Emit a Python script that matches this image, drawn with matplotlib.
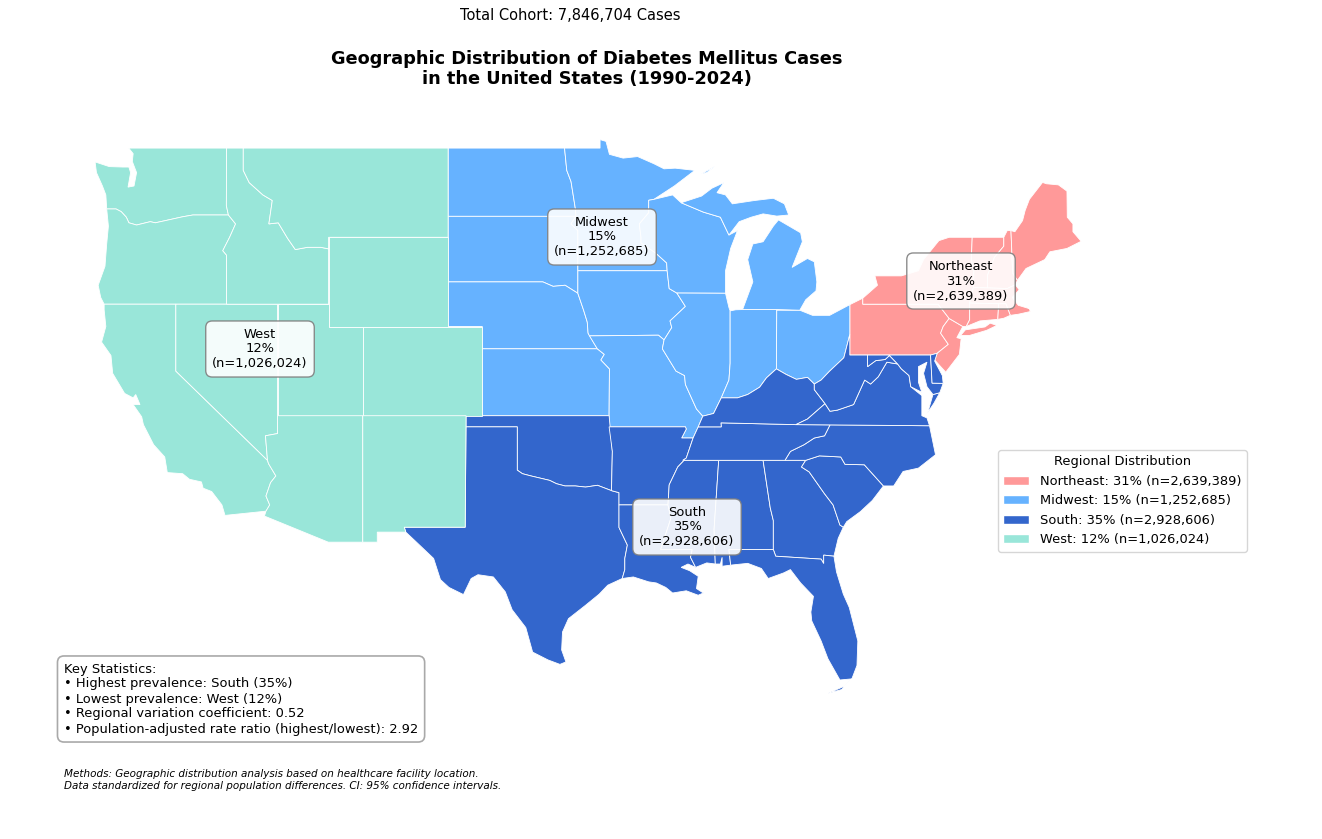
import matplotlib
matplotlib.use('Agg')
import matplotlib.pyplot as plt
from matplotlib.patches import Polygon, Patch

# state outlines, lon/lat
WA = [(-117.03,49.0),(-122.76,49.0),(-122.5,48.75),(-122.55,48.4),(-122.3,47.9),(-122.45,47.3),(-122.8,47.25),(-122.65,47.9),(-122.75,48.15),(-123.1,48.15),(-123.9,48.17),(-124.73,48.38),(-124.65,47.9),(-124.3,47.3),(-124.1,46.9),(-124.05,46.27),(-123.5,46.27),(-123.2,46.15),(-122.9,45.9),(-122.75,45.65),(-122.3,45.55),(-121.5,45.7),(-121.2,45.65),(-120.6,45.75),(-119.6,45.92),(-119.0,46.0),(-116.92,46.0),(-117.04,46.42)]
OR = [(-124.05,46.27),(-123.5,46.27),(-123.2,46.15),(-122.9,45.9),(-122.75,45.65),(-122.3,45.55),(-121.5,45.7),(-121.2,45.65),(-120.6,45.75),(-119.6,45.92),(-119.0,46.0),(-116.92,46.0),(-116.5,45.6),(-116.85,45.0),(-117.25,44.4),(-117.03,44.2),(-117.03,42.0),(-124.2,42.0),(-124.4,42.3),(-124.55,42.85),(-124.15,43.7),(-124.05,44.7),(-123.95,45.5)]
CA = [(-124.2,42.0),(-120.0,42.0),(-120.0,39.0),(-114.63,35.0),(-114.57,34.85),(-114.14,34.3),(-114.45,34.0),(-114.72,33.4),(-114.5,33.0),(-114.72,32.72),(-117.12,32.53),(-117.3,33.0),(-117.9,33.6),(-118.4,33.75),(-118.5,34.03),(-119.2,34.15),(-119.6,34.4),(-120.5,34.45),(-120.65,35.15),(-121.3,35.7),(-121.9,36.6),(-122.0,36.95),(-122.5,37.5),(-122.1,37.5),(-122.35,37.95),(-122.5,37.8),(-123.0,38.0),(-123.7,38.9),(-123.8,39.7),(-124.35,40.3),(-124.1,41.0),(-124.2,41.75)]
NV = [(-120.0,42.0),(-114.04,42.0),(-114.04,36.2),(-114.75,36.1),(-114.63,35.0),(-120.0,39.0)]
ID = [(-117.03,49.0),(-116.05,49.0),(-116.05,48.0),(-115.7,47.45),(-114.9,46.9),(-114.35,46.65),(-114.55,45.6),(-114.0,45.65),(-113.45,44.95),(-113.0,44.45),(-112.3,44.55),(-111.5,44.55),(-111.05,44.48),(-111.05,42.0),(-117.03,42.0),(-117.03,44.2),(-117.25,44.4),(-116.85,45.0),(-116.5,45.6),(-116.92,46.0),(-117.04,46.42)]
MT = [(-116.05,49.0),(-104.05,49.0),(-104.05,45.0),(-111.05,45.0),(-111.05,44.48),(-111.5,44.55),(-112.3,44.55),(-113.0,44.45),(-113.45,44.95),(-114.0,45.65),(-114.55,45.6),(-114.35,46.65),(-114.9,46.9),(-115.7,47.45),(-116.05,48.0)]
WY = [(-111.05,45.0),(-104.05,45.0),(-104.05,41.0),(-111.05,41.0)]
UT = [(-114.04,42.0),(-111.05,42.0),(-111.05,41.0),(-109.05,41.0),(-109.05,37.0),(-114.04,37.0)]
CO = [(-109.05,41.0),(-102.05,41.0),(-102.05,37.0),(-109.05,37.0)]
AZ = [(-114.04,37.0),(-109.05,37.0),(-109.05,31.33),(-111.07,31.33),(-114.81,32.5),(-114.72,32.72),(-114.5,33.0),(-114.72,33.4),(-114.45,34.0),(-114.14,34.3),(-114.57,34.85),(-114.63,35.0),(-114.75,36.1),(-114.04,36.2)]
NM = [(-109.05,37.0),(-103.0,37.0),(-103.05,32.0),(-106.62,32.0),(-106.53,31.78),(-108.2,31.78),(-108.2,31.33),(-109.05,31.33)]

ND = [(-104.05,49.0),(-97.23,49.0),(-97.1,48.0),(-96.85,47.5),(-96.6,46.3),(-96.56,45.94),(-104.05,45.94)]
SD = [(-104.05,45.94),(-96.56,45.94),(-96.85,45.6),(-96.45,45.3),(-96.45,42.49),(-97.2,42.85),(-97.9,42.8),(-98.5,43.0),(-104.05,43.0)]
NE = [(-104.05,43.0),(-98.5,43.0),(-97.9,42.8),(-97.2,42.85),(-96.45,42.49),(-96.1,41.7),(-95.9,41.2),(-95.85,40.7),(-95.31,40.0),(-102.05,40.0),(-102.05,41.0),(-104.05,41.0)]
KS = [(-102.05,40.0),(-95.31,40.0),(-94.9,39.75),(-95.1,39.5),(-94.6,39.1),(-94.62,37.0),(-102.05,37.0)]
MN = [(-97.23,49.0),(-95.15,49.0),(-95.15,49.38),(-94.8,49.3),(-94.6,48.72),(-93.8,48.55),(-92.95,48.62),(-92.0,48.3),(-91.4,48.07),(-90.75,48.1),(-89.6,48.0),(-90.8,47.3),(-92.0,46.7),(-92.3,46.66),(-92.3,46.1),(-92.85,45.6),(-92.75,45.0),(-92.75,44.75),(-91.9,44.3),(-91.25,43.85),(-91.22,43.5),(-96.45,43.5),(-96.45,45.3),(-96.85,45.6),(-96.56,45.94),(-96.6,46.3),(-96.85,47.5),(-97.1,48.0)]
IA = [(-96.45,43.5),(-91.22,43.5),(-91.1,42.7),(-90.65,42.5),(-90.15,41.9),(-91.05,41.25),(-90.95,40.95),(-91.4,40.4),(-91.73,40.61),(-95.77,40.58),(-95.85,40.7),(-95.9,41.2),(-96.1,41.7),(-96.45,42.49)]
MO = [(-95.77,40.58),(-91.73,40.61),(-91.4,40.4),(-91.5,40.0),(-90.7,39.0),(-90.2,38.8),(-90.15,38.4),(-89.5,37.3),(-89.13,36.98),(-89.4,36.5),(-89.7,36.0),(-90.37,36.0),(-90.1,36.4),(-90.15,36.5),(-94.62,36.5),(-94.62,37.0),(-94.6,39.1),(-95.1,39.5),(-94.9,39.75),(-95.31,40.0)]
WI = [(-92.3,46.66),(-92.0,46.7),(-90.9,46.9),(-90.4,46.55),(-89.1,46.13),(-88.1,45.9),(-87.6,45.1),(-87.1,45.3),(-87.5,44.5),(-87.8,43.5),(-87.8,42.49),(-90.65,42.5),(-91.1,42.7),(-91.22,43.5),(-91.25,43.85),(-91.9,44.3),(-92.75,44.75),(-92.75,45.0),(-92.85,45.6),(-92.3,46.1)]
IL = [(-90.65,42.5),(-87.8,42.49),(-87.6,41.85),(-87.53,41.7),(-87.53,39.35),(-87.6,38.6),(-88.05,37.8),(-88.5,37.1),(-89.13,36.98),(-89.5,37.3),(-90.15,38.4),(-90.2,38.8),(-90.7,39.0),(-91.5,40.0),(-91.4,40.4),(-90.95,40.95),(-91.05,41.25),(-90.15,41.9)]
IN = [(-87.53,41.7),(-87.2,41.75),(-86.8,41.76),(-84.8,41.76),(-84.82,39.1),(-85.4,38.7),(-85.8,38.28),(-86.5,37.95),(-87.1,37.8),(-88.05,37.8),(-87.6,38.6),(-87.53,39.35)]
OH = [(-84.82,39.1),(-84.8,41.73),(-83.45,41.73),(-82.7,41.5),(-81.7,41.5),(-80.52,41.98),(-80.52,40.64),(-80.87,39.6),(-81.7,39.0),(-82.2,38.6),(-82.6,38.42),(-83.0,38.72),(-83.65,38.63),(-84.25,38.85)]
MI_UPPER = [(-90.4,46.55),(-89.1,46.13),(-88.1,45.9),(-87.6,45.1),(-87.0,45.7),(-86.3,45.9),(-85.6,46.05),(-84.8,45.95),(-84.1,46.0),(-84.35,46.5),(-85.0,46.75),(-86.1,46.65),(-87.4,46.5),(-87.8,46.9),(-88.3,47.0),(-87.9,47.45),(-88.6,47.2),(-89.2,46.85)]
MI_LOWER = [(-86.8,41.76),(-84.8,41.76),(-83.45,41.73),(-83.1,42.2),(-82.5,42.6),(-82.45,43.0),(-82.6,43.9),(-83.0,44.05),(-83.9,43.65),(-83.3,44.8),(-83.4,45.2),(-84.7,45.78),(-85.0,45.5),(-85.6,44.8),(-86.2,44.7),(-86.5,44.0),(-86.2,43.0)]
ISLE_ROYALE = [(-89.2,47.85),(-88.45,48.17),(-88.9,47.9)]

OK = [(-103.0,37.0),(-94.62,37.0),(-94.43,35.4),(-94.48,33.64),(-95.3,33.88),(-96.0,33.8),(-96.6,33.85),(-97.2,33.85),(-97.7,33.95),(-98.1,34.1),(-99.2,34.3),(-99.7,34.4),(-100.0,34.56),(-100.0,36.5),(-103.0,36.5)]
TX = [(-106.62,32.0),(-103.05,32.0),(-103.0,36.5),(-100.0,36.5),(-100.0,34.56),(-99.7,34.4),(-99.2,34.3),(-98.1,34.1),(-97.7,33.95),(-97.2,33.85),(-96.6,33.85),(-96.0,33.8),(-95.3,33.88),(-94.48,33.64),(-94.04,33.55),(-94.04,31.99),(-93.55,31.2),(-93.7,30.6),(-93.7,30.1),(-93.85,29.7),(-94.7,29.4),(-95.2,29.0),(-96.0,28.5),(-97.0,27.9),(-97.35,27.3),(-97.4,26.5),(-97.15,25.96),(-97.5,25.85),(-98.2,26.05),(-99.1,26.4),(-99.5,27.5),(-100.3,28.3),(-100.7,29.1),(-101.4,29.77),(-102.3,29.87),(-102.7,29.7),(-103.15,28.98),(-104.0,29.3),(-104.5,29.65),(-104.9,30.6),(-106.0,31.4),(-106.53,31.78)]
AR = [(-94.62,36.5),(-90.15,36.5),(-90.1,36.4),(-90.37,36.0),(-89.7,36.0),(-90.1,35.1),(-90.6,34.7),(-91.1,33.9),(-91.17,33.0),(-94.04,33.0),(-94.04,33.55),(-94.48,33.64),(-94.43,35.4)]
LA = [(-94.04,33.0),(-91.17,33.0),(-91.0,32.4),(-91.6,31.0),(-89.75,31.0),(-89.85,30.65),(-89.55,30.2),(-90.0,30.35),(-90.4,30.2),(-89.9,30.05),(-89.4,29.8),(-89.5,29.25),(-89.1,29.05),(-89.4,28.95),(-90.1,29.15),(-90.9,29.05),(-91.3,29.3),(-91.85,29.5),(-92.3,29.55),(-93.2,29.77),(-93.85,29.7),(-93.7,30.1),(-93.7,30.6),(-93.55,31.2),(-94.04,31.99)]
MS = [(-90.3,35.0),(-88.2,35.0),(-88.47,31.9),(-88.4,30.35),(-88.9,30.4),(-89.55,30.2),(-89.85,30.65),(-89.75,31.0),(-91.6,31.0),(-91.0,32.4),(-91.17,33.0),(-91.1,33.9),(-90.6,34.7),(-90.1,35.1)]
AL = [(-88.2,35.0),(-85.6,35.0),(-85.18,32.87),(-85.0,32.3),(-85.0,31.0),(-87.6,31.0),(-87.5,30.3),(-88.0,30.25),(-88.0,30.65),(-88.1,30.35),(-88.4,30.35),(-88.47,31.9)]
GA = [(-85.6,35.0),(-83.1,35.0),(-83.35,34.7),(-82.9,34.48),(-82.0,33.5),(-81.5,33.0),(-81.1,32.1),(-80.9,32.0),(-81.2,31.5),(-81.45,30.7),(-82.05,30.75),(-82.05,30.37),(-82.2,30.57),(-84.86,30.7),(-85.0,31.0),(-85.0,32.3),(-85.18,32.87)]
FL = [(-87.6,31.0),(-85.0,31.0),(-84.86,30.7),(-82.2,30.57),(-82.05,30.37),(-82.05,30.75),(-81.45,30.7),(-81.3,30.0),(-80.9,29.0),(-80.55,28.4),(-80.05,26.9),(-80.1,25.8),(-80.4,25.2),(-81.1,25.15),(-81.8,26.1),(-82.2,26.9),(-82.75,27.8),(-82.8,28.2),(-82.65,28.9),(-83.4,29.5),(-84.0,30.1),(-84.4,29.95),(-85.3,29.7),(-85.7,30.15),(-86.5,30.38),(-87.5,30.3)]
FL_KEYS = [(-80.4,25.2),(-80.9,24.85),(-81.8,24.55),(-81.0,24.72)]
SC = [(-83.35,34.7),(-83.1,35.0),(-82.3,35.2),(-81.05,35.15),(-80.8,34.82),(-79.67,34.8),(-78.55,33.85),(-79.2,33.2),(-79.9,32.7),(-80.7,32.25),(-80.9,32.0),(-81.1,32.1),(-81.5,33.0),(-82.0,33.5),(-82.9,34.48)]
NC = [(-84.32,35.0),(-83.1,35.0),(-82.3,35.2),(-81.05,35.15),(-80.8,34.82),(-79.67,34.8),(-78.55,33.85),(-77.95,33.85),(-77.4,34.5),(-76.5,34.65),(-75.5,35.25),(-75.85,36.55),(-81.68,36.59),(-82.0,36.1),(-82.6,36.0),(-83.2,35.7),(-84.0,35.4)]
TN = [(-90.3,35.0),(-88.2,35.0),(-85.6,35.0),(-84.32,35.0),(-84.0,35.4),(-83.2,35.7),(-82.6,36.0),(-82.0,36.1),(-81.68,36.59),(-83.68,36.6),(-88.07,36.68),(-88.05,36.5),(-89.4,36.5),(-89.7,36.0),(-90.1,35.1)]
KY = [(-89.4,36.5),(-88.05,36.5),(-88.07,36.68),(-83.68,36.6),(-83.0,36.85),(-81.97,37.54),(-82.6,38.17),(-82.6,38.42),(-83.0,38.72),(-83.65,38.63),(-84.25,38.85),(-84.82,39.1),(-85.4,38.7),(-85.8,38.28),(-86.5,37.95),(-87.1,37.8),(-88.05,37.8),(-88.5,37.1),(-89.13,36.98)]
VA = [(-83.68,36.6),(-75.85,36.55),(-76.0,36.9),(-76.3,37.0),(-76.3,37.9),(-76.95,38.3),(-77.05,38.8),(-77.5,39.1),(-77.72,39.32),(-78.35,39.4),(-78.85,38.75),(-79.3,38.42),(-79.65,38.6),(-80.3,37.5),(-81.25,37.25),(-81.68,37.2),(-81.97,37.54),(-83.0,36.85)]
VA_SHORE = [(-75.95,37.15),(-75.65,37.95),(-75.25,38.03),(-75.6,37.55)]
WV = [(-81.97,37.54),(-81.68,37.2),(-81.25,37.25),(-80.3,37.5),(-79.65,38.6),(-79.3,38.42),(-78.85,38.75),(-78.35,39.4),(-77.72,39.32),(-78.2,39.7),(-78.45,39.52),(-79.0,39.47),(-79.48,39.2),(-79.48,39.72),(-80.52,39.72),(-80.52,40.64),(-80.87,39.6),(-81.7,39.0),(-82.2,38.6),(-82.6,38.42),(-82.6,38.17)]
MD = [(-79.48,39.72),(-75.79,39.72),(-75.7,38.46),(-75.05,38.45),(-75.25,38.03),(-75.65,37.95),(-76.0,38.3),(-76.2,38.9),(-76.0,39.4),(-76.5,39.2),(-76.5,38.5),(-76.3,38.05),(-76.95,38.3),(-77.05,38.8),(-77.5,39.1),(-77.72,39.32),(-78.2,39.7),(-78.45,39.52),(-79.0,39.47),(-79.48,39.2)]
DE = [(-75.79,39.72),(-75.4,39.8),(-75.55,39.45),(-75.1,38.8),(-75.05,38.45),(-75.7,38.46)]

PA = [(-80.52,41.98),(-79.76,42.27),(-79.76,42.0),(-75.35,42.0),(-74.7,41.36),(-75.05,41.0),(-75.2,40.7),(-74.75,40.2),(-75.4,39.8),(-75.79,39.72),(-80.52,39.72)]
NJ = [(-75.05,41.0),(-74.7,41.36),(-73.9,41.0),(-74.25,40.5),(-74.0,40.45),(-74.1,39.75),(-74.9,38.95),(-75.55,39.5),(-75.4,39.8),(-74.75,40.2),(-75.2,40.7)]
NY = [(-79.76,42.27),(-78.9,42.85),(-79.05,43.27),(-77.5,43.27),(-76.5,43.5),(-76.2,44.0),(-75.3,44.85),(-74.7,45.0),(-73.35,45.0),(-73.4,44.0),(-73.25,43.55),(-73.28,42.75),(-73.5,42.05),(-73.5,41.3),(-73.7,41.0),(-73.9,41.0),(-74.7,41.36),(-75.35,42.0),(-79.76,42.0)]
LONG_ISLAND = [(-74.03,40.6),(-73.75,40.85),(-72.6,40.98),(-72.3,41.15),(-71.9,41.05),(-72.5,40.83),(-73.5,40.6)]
VT = [(-73.35,45.0),(-71.5,45.0),(-71.5,44.6),(-72.05,44.1),(-72.45,43.3),(-72.46,42.73),(-73.28,42.75),(-73.25,43.55),(-73.4,44.0)]
NH = [(-71.5,45.0),(-71.3,45.3),(-71.08,45.3),(-70.98,43.4),(-70.7,43.07),(-70.82,42.87),(-71.3,42.7),(-72.46,42.73),(-72.45,43.3),(-72.05,44.1),(-71.5,44.6)]
ME = [(-71.08,45.3),(-70.85,45.25),(-70.4,45.75),(-70.25,46.2),(-70.0,46.7),(-69.23,47.46),(-69.0,47.4),(-68.3,47.35),(-67.8,47.07),(-67.78,45.9),(-67.45,45.6),(-67.45,45.25),(-66.97,44.82),(-67.8,44.5),(-68.8,44.35),(-69.1,44.0),(-70.2,43.6),(-70.7,43.07),(-70.98,43.4)]
MA = [(-73.5,42.05),(-73.28,42.75),(-72.46,42.73),(-71.3,42.7),(-70.82,42.87),(-70.6,42.65),(-71.0,42.3),(-70.65,41.95),(-70.0,41.8),(-70.1,42.05),(-69.95,41.67),(-70.65,41.55),(-71.12,41.5),(-71.38,42.02),(-71.8,42.02)]
CT = [(-73.5,42.05),(-71.8,42.02),(-71.85,41.32),(-72.9,41.25),(-73.7,41.0),(-73.5,41.3)]
RI = [(-71.8,42.02),(-71.38,42.02),(-71.12,41.5),(-71.5,41.37),(-71.85,41.32)]

regions = ['Northeast', 'Midwest', 'South', 'West']
percents = [31, 15, 35, 12]
cases = [2639389, 1252685, 2928606, 1026024]
colors = ['#FF9999', '#66B2FF', '#3366CC', '#99E6D9']
region_shapes = {
    'Northeast': [PA, NJ, NY, LONG_ISLAND, VT, NH, ME, MA, CT, RI],
    'Midwest': [ND, SD, NE, KS, MN, IA, MO, WI, IL, IN, OH, MI_UPPER, MI_LOWER, ISLE_ROYALE],
    'South': [OK, TX, AR, LA, MS, AL, GA, FL, FL_KEYS, SC, NC, TN, KY, VA, VA_SHORE, WV, MD, DE],
    'West': [WA, OR, CA, NV, ID, MT, WY, UT, CO, AZ, NM],
}
# label box centres in figure pixels
label_pos = {'Northeast': (961, 281), 'Midwest': (602, 237), 'South': (687, 527), 'West': (260, 349)}

W, H = 1322, 839
fig = plt.figure(figsize=(W / 100, H / 100), dpi=100)
ax = fig.add_axes([0, 0, 1, 1])
ax.set_xlim(-130.3, -52.86)
ax.set_ylim(18.02, 55.64)
ax.axis('off')


def fx(px):
    return px / W


def fy(py):
    return 1 - py / H


for name, color in zip(regions, colors):
    for shape in region_shapes[name]:
        ax.add_patch(Polygon(shape, closed=True, facecolor=color, edgecolor='white', linewidth=0.6))

for name, pct, n in zip(regions, percents, cases):
    x, y = label_pos[name]
    fig.text(fx(x), fy(y), f'{name}\n{pct}%\n(n={n:,})', fontsize=9.4, ha='center', va='center',
             zorder=5, bbox=dict(boxstyle='round,pad=0.5', facecolor='white', edgecolor='gray', alpha=0.9))

fig.text(fx(570), fy(15), 'Total Cohort: 7,846,704 Cases', fontsize=10.5, ha='center', va='center')
fig.text(fx(587), fy(69), 'Geographic Distribution of Diabetes Mellitus Cases\nin the United States (1990-2024)',
         fontsize=12.8, fontweight='bold', ha='center', va='center')

handles = [Patch(facecolor=c, edgecolor='white') for c in colors]
labels = [f'{r}: {p}% (n={n:,})' for r, p, n in zip(regions, percents, cases)]
fig.legend(handles, labels, title='Regional Distribution', loc='upper left',
           bbox_to_anchor=(fx(998), fy(450)), borderaxespad=0, fontsize=9.4, title_fontsize=9.4)

stats = ('Key Statistics:\n'
         '• Highest prevalence: South (35%)\n'
         '• Lowest prevalence: West (12%)\n'
         '• Regional variation coefficient: 0.52\n'
         '• Population-adjusted rate ratio (highest/lowest): 2.92')
fig.text(fx(64), fy(699), stats, fontsize=9.4, ha='left', va='center',
         bbox=dict(boxstyle='round,pad=0.5', facecolor='white', edgecolor='darkgray', linewidth=1.2))

fig.text(fx(64), fy(780), 'Methods: Geographic distribution analysis based on healthcare facility location.\n'
         'Data standardized for regional population differences. CI: 95% confidence intervals.',
         fontsize=7.5, style='italic', ha='left', va='center')

fig.savefig('out.png', dpi=100)
